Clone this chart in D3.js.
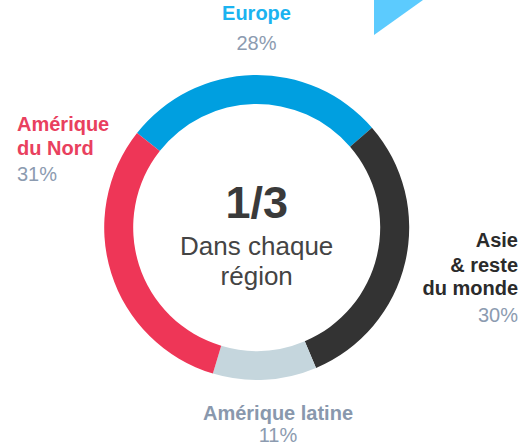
<!DOCTYPE html>
<html>
<head>
<meta charset="utf-8">
<script src="https://cdn.jsdelivr.net/npm/d3@7"></script>
<style>
  html, body { margin: 0; padding: 0; background: #fff; }
  svg { display: block; font-family: "Liberation Sans", Arial, sans-serif; }
</style>
</head>
<body>
<svg id="chart" width="522" height="447"></svg>
<script>
const regions = ["Europe", "Asie & reste du monde", "Amérique latine", "Amérique du Nord"];
const shares = [28, 30, 11, 31];
const sliceColors = ["#009FE0", "#333333", "#C5D6DD", "#EE3657"];
const labelLines = [["Europe"], ["Asie", "& reste", "du monde"], ["Amérique latine"], ["Amérique", "du Nord"]];
const labelColors = ["#1BB3F0", "#2B2B2B", "#8998AD", "#E9405E"];
const pctLabels = ["28%", "30%", "11%", "31%"];
const centerTitle = "1/3";
const centerLines = ["Dans chaque", "région"];

const svg = d3.select("#chart");
const cx = 256.7, cy = 227.5, rOuter = 152.5, rInner = 123.5;

// decorative triangle top-right
svg.append("path")
  .attr("d", "M374,0 L423,0 L374,35 Z")
  .attr("fill", "#5CCBFE");

const start = -51.7 * Math.PI / 180;
const pie = d3.pie().sort(null).value(d => d).startAngle(start).endAngle(start + 2 * Math.PI);
const arc = d3.arc().innerRadius(rInner).outerRadius(rOuter);

const g = svg.append("g").attr("transform", `translate(${cx},${cy})`);
g.selectAll("path.slice")
  .data(pie(shares))
  .join("path")
  .attr("class", "slice")
  .attr("d", arc)
  .attr("fill", (d, i) => sliceColors[i]);

// center text
svg.append("text")
  .attr("x", cx).attr("y", 218)
  .attr("text-anchor", "middle")
  .attr("font-size", 45).attr("font-weight", "bold")
  .attr("fill", "#3A3A3A")
  .text(centerTitle);
svg.append("text")
  .attr("x", cx).attr("y", 255)
  .attr("text-anchor", "middle")
  .attr("font-size", 26)
  .attr("fill", "#444444")
  .text(centerLines[0]);
svg.append("text")
  .attr("x", cx).attr("y", 285)
  .attr("text-anchor", "middle")
  .attr("font-size", 26)
  .attr("fill", "#444444")
  .text(centerLines[1]);

// outer labels: placement per region
const placements = [
  { x: 256.5, anchor: "middle", ys: [20], pctY: 50 },
  { x: 518, anchor: "end", ys: [247, 272, 295], pctY: 322 },
  { x: 278, anchor: "middle", ys: [420], pctY: 442 },
  { x: 17, anchor: "start", ys: [131, 155], pctY: 181 }
];
const pctColor = "#8C9BB0";

regions.forEach((r, i) => {
  const p = placements[i];
  const t = svg.append("text")
    .attr("text-anchor", p.anchor)
    .attr("font-size", 20);
  labelLines[i].forEach((line, j) => {
    t.append("tspan")
      .attr("x", p.x).attr("y", p.ys[j])
      .attr("font-weight", "bold")
      .attr("fill", labelColors[i])
      .text(line);
  });
  t.append("tspan")
    .attr("x", p.x).attr("y", p.pctY)
    .attr("fill", pctColor)
    .text(pctLabels[i]);
});
</script>
</body>
</html>
